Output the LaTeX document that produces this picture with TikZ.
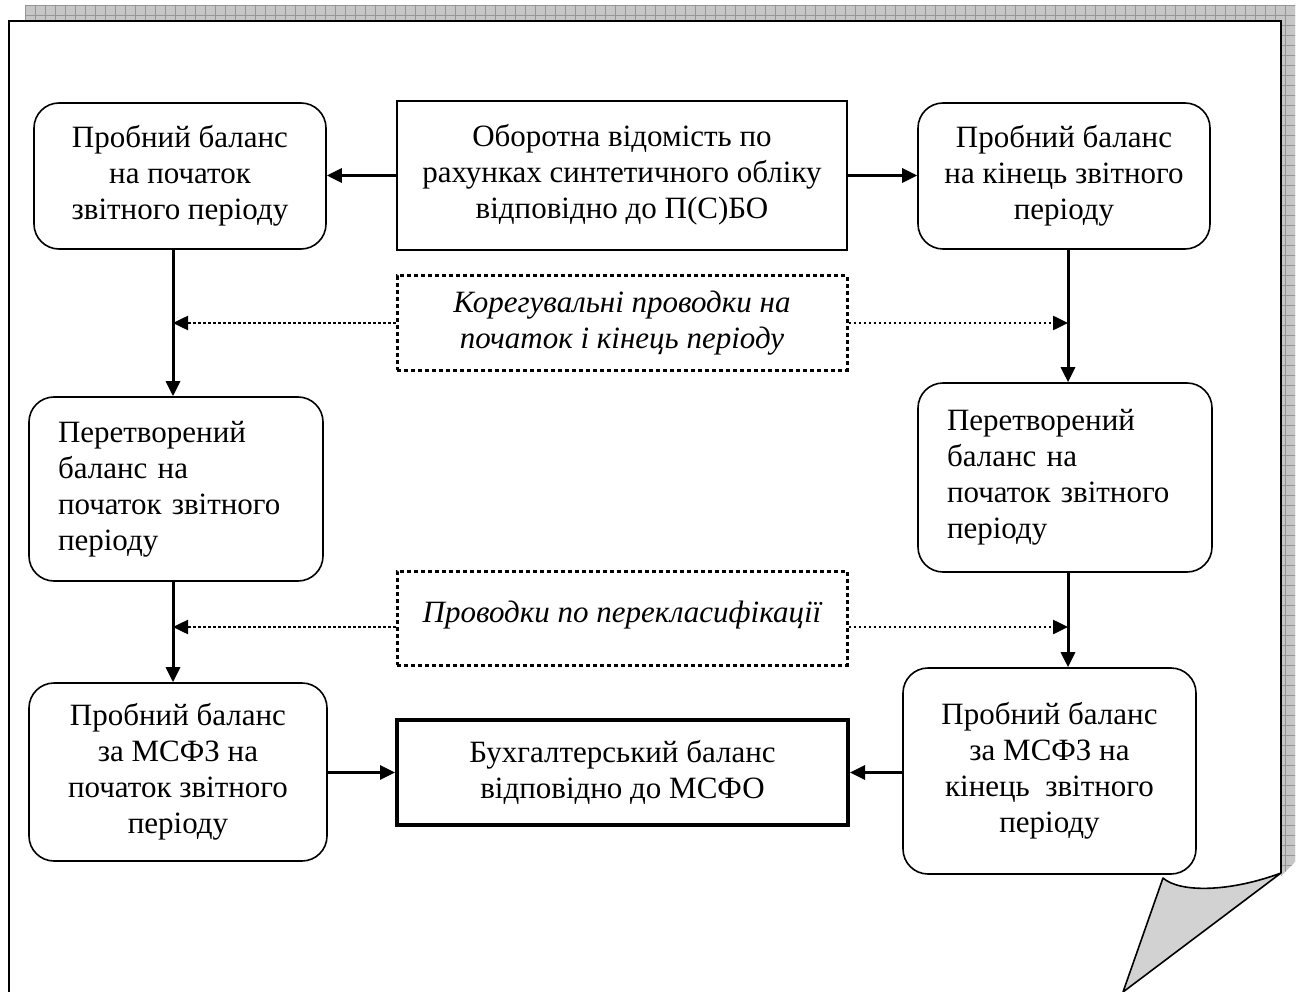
\documentclass[tikz,border=0pt]{standalone}
\usepackage{fontspec}
\setmainfont{Liberation Serif}
\usetikzlibrary{arrows.meta,calc}

\definecolor{shadowgray}{RGB}{198,198,198}
\definecolor{gridgray}{RGB}{150,150,150}
\definecolor{curlgray}{RGB}{210,210,210}

% centred block of lines that keeps the normal line spacing
\newcommand{\linesblock}[1]{\begin{tabular}{@{}c@{}}#1\end{tabular}}

\tikzset{
  txt/.style={font=\fontsize{31}{36}\selectfont, inner sep=0pt},
  rbox/.style={txt, draw, line width=1.6pt, rounded corners=25pt, align=center},
  sbox/.style={txt, draw, line width=1.6pt, align=center},
  thickbox/.style={txt, draw, line width=4pt, align=center},
  dotbox/.style={txt, draw, line width=3pt, dash pattern=on 4pt off 3pt, align=center, font=\fontsize{31}{36}\selectfont\itshape},
  flow/.style={line width=3pt, -{Triangle[length=15pt,width=14pt]}},
  dotflow/.style={line width=2.5pt, dash pattern=on 2.5pt off 2.5pt, -{Triangle[length=15pt,width=14pt]}},
}

\begin{document}
\begin{tikzpicture}[x=1pt, y=-1pt]
  % canvas
  \fill[white] (0,0) rectangle (1301,992);
  \useasboundingbox (0,0) rectangle (1301,992);

  % hatched drop shadow of the sheet
  \begin{scope}
    \clip (25,5) -- (1295,5) -- (1295,862) -- (1281,876) -- (1281,21) -- (25,21) -- cycle;
    \fill[shadowgray] (25,5) rectangle (1295,880);
    \foreach \gx in {25,35,...,1295} \draw[gridgray, line width=0.7pt] (\gx,0) -- (\gx,880);
    \foreach \gy in {5,15,...,875} \draw[gridgray, line width=0.7pt] (20,\gy) -- (1300,\gy);
  \end{scope}

  % sheet with a curled corner
  \fill[white] (9,992) -- (9,21) -- (1281,21) -- (1281,873)
     .. controls (1230,892) and (1180,893) .. (1163,878) -- (1123,992) -- cycle;
  \draw[line width=2.5pt] (9,992) -- (9,21) -- (1281,21) -- (1281,873);
  \filldraw[fill=curlgray, line width=1.6pt, line join=round]
     (1281,873) .. controls (1230,892) and (1180,893) .. (1163,878) -- (1123,992) -- cycle;

  % spines of the two columns
  \coordinate (lx) at (173,0);
  \coordinate (rx) at (1068,0);

  % top row
  \node[rbox, minimum width=292pt, minimum height=146pt] (tl) at (180,176)
    {Пробний баланс\\на початок\\звітного періоду};
  \node[sbox, minimum width=450pt, minimum height=149pt] (tc) at (622,175.5)
    {\raisebox{9pt}{\linesblock{Оборотна відомість по\\рахунках синтетичного обліку\\відповідно до П(С)БО}}};
  \node[rbox, minimum width=292pt, minimum height=146pt] (tr) at (1064,176)
    {Пробний баланс\\на кінець звітного\\періоду};

  % adjusting entries
  \node[dotbox, minimum width=450pt, minimum height=94pt] (d1) at (622,323)
    {Корегувальні проводки на\\початок і кінець періоду};

  % middle row
  \node[rbox, minimum width=294pt, minimum height=184pt, text width=236pt, align=left] (ml) at (176,489)
    {Перетворений\\баланс на\\початок звітного\\періоду};
  \node[rbox, minimum width=294pt, minimum height=189pt, text width=236pt, align=left] (mr) at (1065,477.5)
    {Перетворений\\баланс на\\початок звітного\\періоду};

  % reclassification entries
  \node[dotbox, minimum width=450pt, minimum height=94pt] (d2) at (622,618)
    {\raisebox{13pt}{Проводки по перекласифікації}};

  % bottom row
  \node[rbox, minimum width=298pt, minimum height=178pt] (bl) at (178,772)
    {Пробний баланс\\за МСФЗ на\\початок звітного\\періоду};
  \node[thickbox, minimum width=451pt, minimum height=105pt] (bc) at (622.5,772.5)
    {Бухгалтерський баланс\\відповідно до МСФО};
  \node[rbox, minimum width=293pt, minimum height=206pt] (br) at (1049.5,771)
    {\raisebox{-13pt}{\linesblock{Пробний баланс\\за МСФЗ на\\кінець\ \ звітного\\періоду}}};

  % horizontal flows
  \draw[flow] (tc.west) -- (tc.west -| tl.east);
  \draw[flow] (tc.east) -- (tc.east -| tr.west);
  \draw[flow] (bl.east |- bc.west) -- (bc.west);
  \draw[flow] (br.west |- bc.east) -- (bc.east);

  % vertical flows
  \draw[flow] (tl.south -| lx) -- (ml.north -| lx);
  \draw[flow] (ml.south -| lx) -- (bl.north -| lx);
  \draw[flow] (tr.south -| rx) -- (mr.north -| rx);
  \draw[flow] (mr.south -| rx) -- (br.north -| rx);

  % dotted feeds into the spines
  \draw[dotflow] (d1.west) -- (d1.west -| lx);
  \draw[dotflow] (d1.east) -- (d1.east -| rx);
  \draw[dotflow] ($(d2.west)+(0,9)$) -- ($(d2.west -| lx)+(0,9)$);
  \draw[dotflow] ($(d2.east)+(0,9)$) -- ($(d2.east -| rx)+(0,9)$);
\end{tikzpicture}
\end{document}
